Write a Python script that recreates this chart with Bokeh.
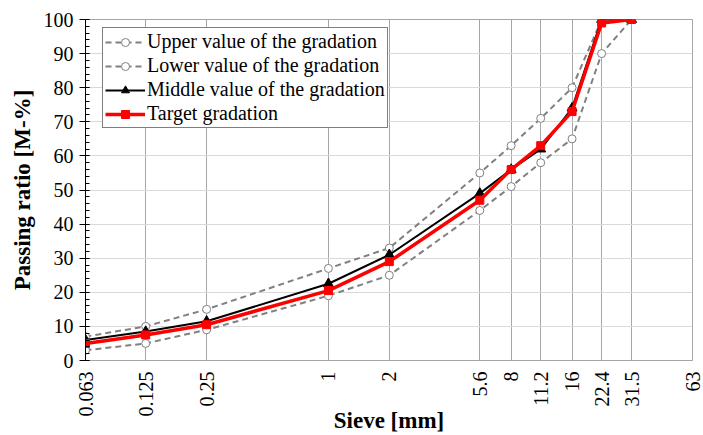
import math
from bokeh.plotting import figure
from bokeh.models import (FixedTicker, CustomJSTickFormatter, Legend, LegendItem, Range1d)
from bokeh.embed import file_html
from bokeh.resources import INLINE

sieves = [0.063, 0.125, 0.25, 1, 2, 5.6, 8, 11.2, 16, 22.4, 31.5]
tick_sieves = [0.063, 0.125, 0.25, 1, 2, 5.6, 8, 11.2, 16, 22.4, 31.5, 63]
upper = [7, 10, 15, 27, 33, 55, 63, 71, 80, 100, 100]
lower = [3, 5, 9, 19, 25, 44, 51, 58, 65, 90, 100]
middle = [6, 8.5, 11.5, 22.5, 31, 49, 56, 62, 74, 100, 100]
target = [5, 7.5, 10.5, 20.5, 29, 47, 56, 63, 73, 99, 100]
y_ticks = list(range(0, 101, 10))
y_minor = list(range(0, 101, 2))

FONT = "Liberation Serif"

p = figure(width=703, height=435, x_axis_type="log", output_backend="svg",
           toolbar_location=None, x_range=Range1d(0.063, 63), y_range=Range1d(0, 100),
           min_border_left=85, min_border_right=11, min_border_top=19, min_border_bottom=75)
p.outline_line_color = "#a6a6a6"

# axes
p.xaxis.ticker = FixedTicker(ticks=tick_sieves)
p.xaxis.formatter = CustomJSTickFormatter(code="return tick.toString();")
p.xaxis.major_label_orientation = math.pi / 2
p.xaxis.major_tick_line_color = None
p.xaxis.minor_tick_line_color = None
p.xaxis.axis_line_color = "#a6a6a6"
p.xaxis.major_label_text_font = FONT
p.xaxis.major_label_text_font_size = "20px"
p.xaxis.major_label_text_color = "black"
p.xaxis.major_label_standoff = 5
p.xaxis.axis_label = "Sieve [mm]"
p.xaxis.axis_label_text_font = FONT
p.xaxis.axis_label_text_font_style = "bold"
p.xaxis.axis_label_text_font_size = "23px"
p.xaxis.axis_label_text_color = "black"
p.xaxis.axis_label_standoff = -12

p.yaxis.ticker = FixedTicker(ticks=y_ticks, minor_ticks=y_minor)
p.yaxis.axis_line_color = "black"
p.yaxis.major_tick_line_color = "black"
p.yaxis.minor_tick_line_color = "black"
p.yaxis.major_tick_in = 4
p.yaxis.major_tick_out = 6
p.yaxis.minor_tick_in = 4
p.yaxis.minor_tick_out = 0
p.yaxis.major_label_text_font = FONT
p.yaxis.major_label_text_font_size = "20px"
p.yaxis.major_label_text_color = "black"
p.yaxis.major_label_standoff = 6
p.yaxis.axis_label = "Passing ratio [M-%]"
p.yaxis.axis_label_text_font = FONT
p.yaxis.axis_label_text_font_style = "bold"
p.yaxis.axis_label_text_font_size = "23px"
p.yaxis.axis_label_text_color = "black"
p.yaxis.axis_label_standoff = 6

p.xgrid.ticker = FixedTicker(ticks=tick_sieves)
p.xgrid.grid_line_color = "#a6a6a6"
p.ygrid.grid_line_color = "#d9d9d9"

# series
u_l = p.line(sieves, upper, line_color="#808080", line_width=2, line_dash="6 4")
u_m = p.scatter(sieves, upper, marker="circle", size=8, fill_color="white", line_color="#808080", line_width=1)
l_l = p.line(sieves, lower, line_color="#808080", line_width=2, line_dash="6 4")
l_m = p.scatter(sieves, lower, marker="circle", size=8, fill_color="white", line_color="#808080", line_width=1)
m_l = p.line(sieves, middle, line_color="black", line_width=2)
m_m = p.scatter(sieves, middle, marker="triangle", size=10, fill_color="black", line_color="black")
t_l = p.line(sieves, target, line_color="#ff0000", line_width=3.5)
t_m = p.scatter(sieves, target, marker="square", size=8, fill_color="#ff0000", line_color="#ff0000")

legend = Legend(items=[
    LegendItem(label="Upper value of the gradation", renderers=[u_l, u_m]),
    LegendItem(label="Lower value of the gradation", renderers=[l_l, l_m]),
    LegendItem(label="Middle value of the gradation", renderers=[m_l, m_m]),
    LegendItem(label="Target gradation", renderers=[t_l, t_m]),
], location=(17, 232))
legend.label_text_font = FONT
legend.label_text_font_size = "20px"
legend.label_text_color = "black"
legend.label_height = 20
legend.glyph_height = 20
legend.glyph_width = 40
legend.label_standoff = 2
legend.spacing = 1
legend.padding = 2
legend.margin = 0
legend.border_line_color = "black"
legend.border_line_width = 1
legend.background_fill_alpha = 1
p.add_layout(legend, "center")

open("out.html", "w").write(file_html(p, INLINE))
